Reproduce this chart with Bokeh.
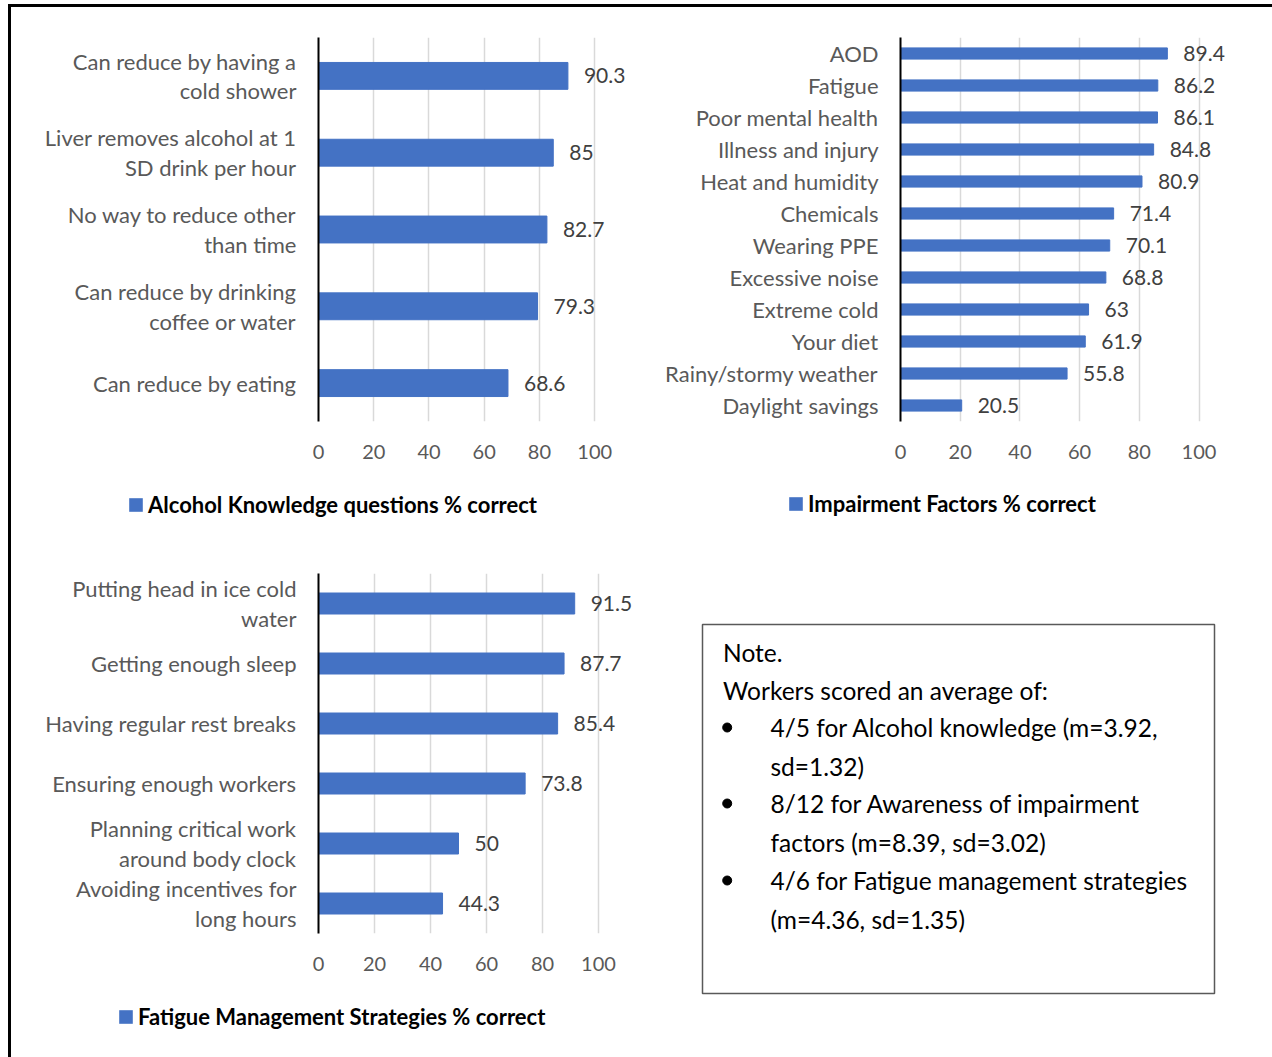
from bokeh.plotting import figure
from bokeh.models import (FactorRange, Range1d, LabelSet, ColumnDataSource,
                          FixedTicker, Legend, LegendItem, Spacer)
from bokeh.layouts import row, column
from bokeh.embed import file_html
from bokeh.resources import INLINE
from bokeh.core.properties import value

# ---------------- data ----------------
alc_labels = ["Can reduce by having a\ncold shower",
              "Liver removes alcohol at 1\nSD drink per hour",
              "No way to reduce other\nthan time",
              "Can reduce by drinking\ncoffee or water",
              "Can reduce by eating"]
alc_values = [90.3, 85, 82.7, 79.3, 68.6]
alc_title = "Alcohol Knowledge questions % correct"

imp_labels = ["AOD", "Fatigue", "Poor mental health", "Illness and injury",
              "Heat and humidity", "Chemicals", "Wearing PPE", "Excessive noise",
              "Extreme cold", "Your diet", "Rainy/stormy weather", "Daylight savings"]
imp_values = [89.4, 86.2, 86.1, 84.8, 80.9, 71.4, 70.1, 68.8, 63, 61.9, 55.8, 20.5]
imp_title = "Impairment Factors % correct"

fat_labels = ["Putting head in ice cold\nwater",
              "Getting enough sleep",
              "Having regular rest breaks",
              "Ensuring enough workers",
              "Planning critical work\naround body clock",
              "Avoiding incentives for\nlong hours"]
fat_values = [91.5, 87.7, 85.4, 73.8, 50, 44.3]
fat_title = "Fatigue Management Strategies % correct"

x_ticks = [0, 20, 40, 60, 80, 100]

note_lines = ["Note.",
              "Workers scored an average of:",
              "4/5 for Alcohol knowledge (m=3.92,",
              "sd=1.32)",
              "8/12 for Awareness of impairment",
              "factors (m=8.39, sd=3.02)",
              "4/6 for Fatigue management strategies",
              "(m=4.36, sd=1.35)"]
note_bullet_line = [False, False, True, False, True, False, True, False]

# ---------------- style ----------------
FONT = "Lato"
BAR = "#4472C4"
AXIS_TXT = "#595959"
VAL_TXT = "#404040"
GRID = "#D9D9D9"


def make_chart(labels, values, width, height, left, top, fh, px_per_unit):
    fw = width - left
    p = figure(width=width, height=height,
               y_range=FactorRange(*list(reversed(labels))),
               x_range=Range1d(0, fw / px_per_unit),
               output_backend="svg", toolbar_location=None,
               min_border_left=left, min_border_top=top,
               min_border_right=0,
               min_border_bottom=height - top - fh)
    src = ColumnDataSource(dict(cat=labels, v=values,
                                txt=[f"{v:g}" for v in values]))
    p.hbar(y="cat", right="v", left=0, height=0.35, source=src,
           fill_color=BAR, line_color=BAR)
    p.add_layout(LabelSet(x="v", y="cat", text="txt", source=src,
                          x_offset=16, text_align="left",
                          text_baseline="middle", text_font=value(FONT),
                          text_font_size="21px", text_color=VAL_TXT))
    p.outline_line_color = None
    p.background_fill_color = "white"
    p.border_fill_color = "white"

    p.xaxis.ticker = FixedTicker(ticks=x_ticks)
    p.xaxis.axis_line_color = None
    p.xaxis.major_tick_line_color = None
    p.xaxis.minor_tick_line_color = None
    p.xaxis.major_tick_out = 0
    p.xaxis.major_tick_in = 0
    p.xaxis.minor_tick_out = 0
    p.xaxis.major_label_text_font = FONT
    p.xaxis.major_label_text_font_size = "20px"
    p.xaxis.major_label_text_color = AXIS_TXT
    p.xaxis.major_label_standoff = 23

    p.yaxis.axis_line_color = "black"
    p.yaxis.axis_line_width = 2
    p.yaxis.major_tick_line_color = None
    p.yaxis.minor_tick_line_color = None
    p.yaxis.major_tick_out = 0
    p.yaxis.major_tick_in = 0
    p.yaxis.major_label_text_font = FONT
    p.yaxis.major_label_text_font_size = "22px"
    p.yaxis.major_label_text_line_height = 1.1
    p.yaxis.major_label_text_color = AXIS_TXT
    p.yaxis.major_label_standoff = 22

    p.xgrid.ticker = FixedTicker(ticks=x_ticks[1:])
    p.xgrid.grid_line_color = GRID
    p.xgrid.grid_line_width = 1.5
    p.ygrid.grid_line_color = None
    return p


def make_legend(title, width, height, leg_xy):
    # small panel holding the series legend (the swatch renderer sits off-range)
    q = figure(width=width, height=height, x_range=Range1d(0, 1), y_range=Range1d(0, 1),
               output_backend="svg", toolbar_location=None,
               x_axis_type=None, y_axis_type=None, min_border=0)
    q.grid.visible = False
    q.outline_line_color = None
    q.background_fill_color = "white"
    q.border_fill_color = "white"
    r = q.hbar(y=[50], right=[60], left=[50], height=0.35,
               fill_color=BAR, line_color=None)
    leg = Legend(items=[LegendItem(label=title, renderers=[r])],
                 location=leg_xy, glyph_width=17, glyph_height=17,
                 label_standoff=4, padding=0, margin=0, spacing=0,
                 label_height=17,
                 label_text_font=FONT, label_text_font_size="22px",
                 label_text_font_style="bold", label_text_color="black",
                 border_line_alpha=0, background_fill_alpha=0)
    q.add_layout(leg, "center")
    return q


f1 = make_chart(alc_labels, alc_values, 639, 473, 307, 30, 384, 2.762)
l1 = make_legend(alc_title, 639, 60, (116, 22))
f2 = make_chart(imp_labels, imp_values, 622, 473, 250, 30, 384, 2.985)
l2 = make_legend(imp_title, 622, 60, (137, 23))
f3 = make_chart(fat_labels, fat_values, 639, 450, 307, 33, 360, 2.80)
l3 = make_legend(fat_title, 639, 67, (106, 27))

# ---------------- note box ----------------
f4 = figure(width=622, height=517, x_range=Range1d(0, 512), y_range=Range1d(369, 0),
            output_backend="svg", toolbar_location=None,
            x_axis_type=None, y_axis_type=None,
            min_border_left=52, min_border_right=58,
            min_border_top=84, min_border_bottom=64)
f4.grid.visible = False
f4.outline_line_color = "#595959"
f4.outline_line_width = 1.5
f4.background_fill_color = "white"
f4.border_fill_color = "white"

line_y = [27.7, 65.7, 103, 142, 179, 217.6, 256, 295]
line_x = [20.6 if i < 2 else 68 for i in range(len(note_lines))]
f4.text(x=line_x, y=line_y, text=note_lines, text_font=value(FONT),
        text_font_size="24.5px", text_baseline="middle", text_align="left",
        text_color="black")
bx = [24.7 for b in note_bullet_line if b]
by = [y for y, b in zip(line_y, note_bullet_line) if b]
f4.scatter(x=bx, y=by, size=9, color="black")

# ---------------- page with border ----------------
hline = Spacer(width=1264, height=3, styles={"background-color": "black"})
vline = Spacer(width=3, height=1050, styles={"background-color": "black"})
grid = column(row(column(f1, column(l1)), column(f2, column(l2))),
              row(column(f3, column(l3)), column(f4)))
page = column(Spacer(width=1272, height=4),
              row(Spacer(width=8, height=1053),
                  column(hline, row(vline, grid))))

open("out.html", "w").write(file_html(page, INLINE))
